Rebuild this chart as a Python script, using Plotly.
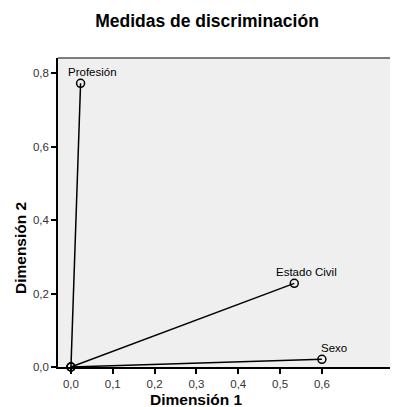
import plotly.graph_objects as go

variables = ["Profesión", "Estado Civil", "Sexo"]
dim1 = [0.023, 0.534, 0.600]
dim2 = [0.773, 0.228, 0.021]
tick_vals_x = [0.0, 0.1, 0.2, 0.3, 0.4, 0.5, 0.6]
tick_vals_y = [0.0, 0.2, 0.4, 0.6, 0.8]

font = "Liberation Sans, Arial"
fig = go.Figure()
for name, x, y in zip(variables, dim1, dim2):
    fig.add_trace(go.Scatter(
        x=[0, x], y=[0, y], mode="lines+markers",
        line=dict(color="black", width=1.5),
        marker=dict(symbol="circle-open", size=8, color="black", line=dict(width=1.5)),
        cliponaxis=False, showlegend=False, hoverinfo="skip"))
    fig.add_annotation(x=x, y=y, text=name, showarrow=False,
                       xanchor="center", yanchor="bottom", xshift=12, yshift=3,
                       font=dict(family=font, size=11.5, color="black"))

fig.update_layout(
    width=390, height=399,
    margin=dict(l=50, r=0, t=50, b=40),
    paper_bgcolor="white", plot_bgcolor="#EFEFEF",
    separators=",.",
    title=dict(text="<b>Medidas de discriminación</b>", x=(207 - 8) / 390, xanchor="center",
               y=1 - 13 / 399, yanchor="middle", font=dict(family=font, size=17.5, color="black")),
    xaxis=dict(range=[-0.031, 0.782], tickvals=tick_vals_x, tickformat=".1f",
               showgrid=False, zeroline=False, showline=True, linecolor="black", linewidth=1.5,
               ticks="outside", ticklen=5, tickcolor="black", tickwidth=1.5,
               tickfont=dict(family=font, size=11.5, color="#333")),
    yaxis=dict(range=[0, 0.842], tickvals=tick_vals_y, tickformat=".1f",
               showgrid=False, zeroline=False, showline=True, linecolor="black", linewidth=1.5,
               ticks="outside", ticklen=5, tickcolor="black", tickwidth=1.5,
               tickfont=dict(family=font, size=11.5, color="#333")),
)
fig.add_annotation(text="<b>Dimensión 1</b>", xref="paper", yref="paper",
                   x=(196 - 58) / 340, y=-(399 - 367) / 309, showarrow=False,
                   xanchor="center", yanchor="middle",
                   font=dict(family=font, size=15.5, color="black"))
fig.add_annotation(text="<b>Dimensión 2</b>", xref="paper", yref="paper",
                   x=-(58 - 20) / 340, y=(367 - 248) / 309, showarrow=False, textangle=-90,
                   xanchor="center", yanchor="middle",
                   font=dict(family=font, size=15.5, color="black"))
fig.add_shape(type="line", xref="paper", yref="paper", x0=0, x1=1, y0=1, y1=1,
              line=dict(color="#555555", width=1.5))
fig.write_html("out.html")
